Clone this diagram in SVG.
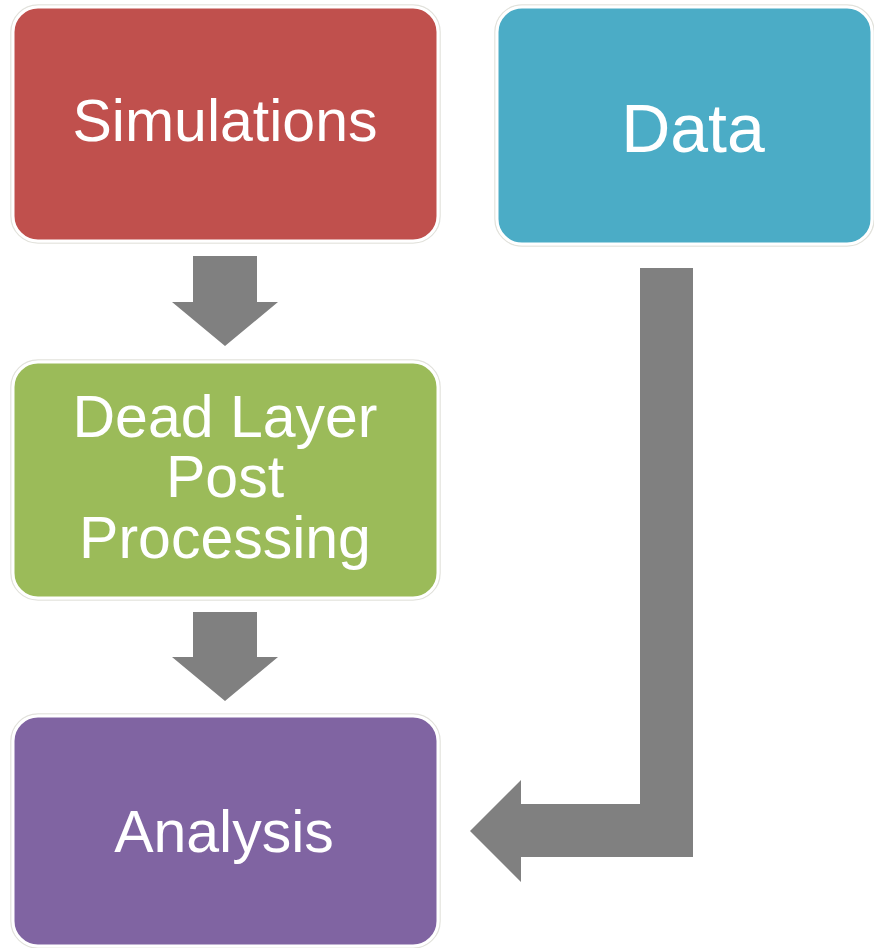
<svg xmlns="http://www.w3.org/2000/svg" width="874" height="948" viewBox="0 0 874 948">
<style>
.box{stroke:#ffffff;stroke-width:3}
.edge{fill:none;stroke:#e2e2dc;stroke-width:1.5}
.lbl{font-family:"Liberation Sans",Arial,sans-serif;fill:#ffffff;text-anchor:middle}
.arr{fill:#808080}
</style>
<rect width="874" height="948" fill="#ffffff"/>
<g id="simulations">
<rect class="edge" x="11" y="5" width="429" height="238" rx="27"/>
<rect class="box" x="13" y="7" width="425" height="234" rx="25" fill="#C0504D"/>
<text class="lbl" x="225" y="141" font-size="59">Simulations</text>
</g>
<g id="data">
<rect class="edge" x="495" y="5" width="379" height="241" rx="27"/>
<rect class="box" x="497" y="7" width="375" height="237" rx="25" fill="#4BACC6"/>
<text class="lbl" x="693" y="152" font-size="68">Data</text>
</g>
<g id="deadlayer">
<rect class="edge" x="11" y="360" width="429" height="240" rx="27"/>
<rect class="box" x="13" y="362" width="425" height="236" rx="25" fill="#9BBB59"/>
<text class="lbl" font-size="59"><tspan x="225" y="437">Dead Layer</tspan><tspan x="225" y="497">Post</tspan><tspan x="225" y="558">Processing</tspan></text>
</g>
<g id="analysis">
<rect class="edge" x="11" y="714" width="429" height="234" rx="27"/>
<rect class="box" x="13" y="716" width="425" height="230" rx="25" fill="#8064A2"/>
<text class="lbl" x="224" y="852" font-size="59">Analysis</text>
</g>
<g id="connectors">
<polygon class="arr" points="193,256 257,256 257,302 278,302 225,346 172,302 193,302"/>
<polygon class="arr" points="193,612 257,612 257,657 278,657 225,701 172,657 193,657"/>
<polygon class="arr" points="640,268 693,268 693,857 521,857 521,882 470,831 521,780 521,804 640,804"/>
</g>
</svg>
